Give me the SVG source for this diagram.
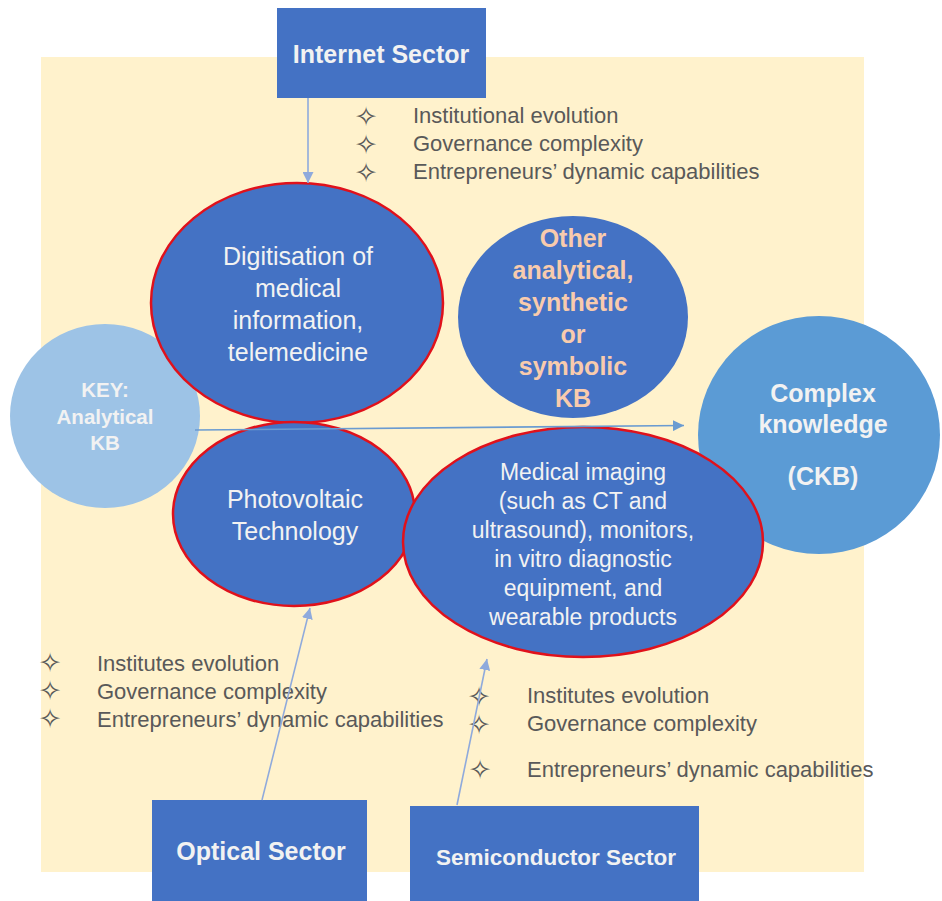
<svg xmlns="http://www.w3.org/2000/svg" width="942" height="901" viewBox="0 0 942 901">
<style>
.box{fill:#4472C4}
.ell{fill:#4472C4;stroke:#E0111B;stroke-width:2.5}
.wt{font-family:"Liberation Sans",Arial,sans-serif;fill:#F2F2F2;text-anchor:middle}
.b{font-weight:bold}
.bul{font-family:"Liberation Sans",Arial,sans-serif;font-size:22px;fill:#595959}
.dia{font-family:"DejaVu Sans",sans-serif;font-size:27px;fill:#595959;text-anchor:middle}
.con{fill:none;stroke:#8FAADC;stroke-width:1.6}
</style>
<defs>
<marker id="ah" viewBox="0 0 10 10" refX="10" refY="5" markerWidth="11" markerHeight="11" markerUnits="userSpaceOnUse" orient="auto">
<path d="M0,0 L10,5 L0,10 Z" fill="#8FAADC"/>
</marker>
<marker id="ah2" viewBox="0 0 10 10" refX="10" refY="5" markerWidth="11" markerHeight="11" markerUnits="userSpaceOnUse" orient="auto">
<path d="M0,0 L10,5 L0,10 Z" fill="#6A9BD1"/>
</marker>
</defs>
<rect x="0" y="0" width="942" height="901" fill="#FFFFFF"/>
<rect id="background" x="41" y="57" width="823" height="815" fill="#FFF2CC"/>

<g id="internet-sector">
<rect class="box" x="277" y="8" width="209" height="90"/>
<text class="wt b" x="381" y="62.5" font-size="25">Internet Sector</text>
</g>

<g id="internet-factors">
<text class="dia" x="366" y="125.5">✧</text>
<text class="dia" x="366" y="153.5">✧</text>
<text class="dia" x="366" y="181.5">✧</text>
<text class="bul" x="413" y="123">Institutional evolution</text>
<text class="bul" x="413" y="151">Governance complexity</text>
<text class="bul" x="413" y="179">Entrepreneurs’ dynamic capabilities</text>
</g>

<g id="key-analytical">
<ellipse cx="105" cy="416" rx="95" ry="92" fill="#9DC3E6"/>
<text class="wt b" x="105" y="397" font-size="20.5">KEY:</text>
<text class="wt b" x="105" y="424" font-size="20.5">Analytical</text>
<text class="wt b" x="105" y="450" font-size="20.5">KB</text>
</g>

<g id="complex-knowledge">
<ellipse cx="819" cy="435" rx="121" ry="119" fill="#5B9BD5"/>
<text class="wt b" x="823" y="402" font-size="25">Complex</text>
<text class="wt b" x="823" y="433" font-size="25">knowledge</text>
<text class="wt b" x="823" y="485" font-size="25">(CKB)</text>
</g>

<g id="other-kb">
<ellipse cx="573" cy="317" rx="115" ry="101" fill="#4472C4"/>
<g font-family="'Liberation Sans',Arial,sans-serif" font-weight="bold" font-size="25" fill="#F8CBAD" text-anchor="middle">
<text x="573" y="247">Other</text>
<text x="573" y="279">analytical,</text>
<text x="573" y="311">synthetic</text>
<text x="573" y="343">or</text>
<text x="573" y="375">symbolic</text>
<text x="573" y="407">KB</text>
</g>
</g>

<g id="digitisation">
<ellipse class="ell" cx="297" cy="303" rx="146" ry="120"/>
<text class="wt" x="298" y="265" font-size="25">Digitisation of</text>
<text class="wt" x="298" y="297" font-size="25">medical</text>
<text class="wt" x="298" y="329" font-size="25">information,</text>
<text class="wt" x="298" y="361" font-size="25">telemedicine</text>
</g>

<g id="photovoltaic">
<ellipse class="ell" cx="294" cy="514" rx="121" ry="92"/>
<text class="wt" x="295" y="508" font-size="25">Photovoltaic</text>
<text class="wt" x="295" y="540" font-size="25">Technology</text>
</g>

<g id="medical-imaging">
<ellipse class="ell" cx="583" cy="542" rx="180" ry="115"/>
<text class="wt" x="583" y="480" font-size="23">Medical imaging</text>
<text class="wt" x="583" y="509" font-size="23">(such as CT and</text>
<text class="wt" x="583" y="538" font-size="23">ultrasound), monitors,</text>
<text class="wt" x="583" y="567" font-size="23">in vitro diagnostic</text>
<text class="wt" x="583" y="596" font-size="23">equipment, and</text>
<text class="wt" x="583" y="625" font-size="23">wearable products</text>
</g>

<g id="optical-factors">
<text class="dia" x="50" y="672">✧</text>
<text class="dia" x="50" y="700">✧</text>
<text class="dia" x="50" y="728">✧</text>
<text class="bul" x="97" y="671">Institutes evolution</text>
<text class="bul" x="97" y="699">Governance complexity</text>
<text class="bul" x="97" y="727">Entrepreneurs’ dynamic capabilities</text>
</g>

<g id="semiconductor-factors">
<text class="dia" x="479" y="705.5">✧</text>
<text class="dia" x="479" y="733.5">✧</text>
<text class="dia" x="480" y="778.5">✧</text>
<text class="bul" x="527" y="703">Institutes evolution</text>
<text class="bul" x="527" y="731">Governance complexity</text>
<text class="bul" x="527" y="777">Entrepreneurs’ dynamic capabilities</text>
</g>

<g id="optical-sector">
<rect class="box" x="152" y="800" width="215" height="101"/>
<text class="wt b" x="261" y="860" font-size="25">Optical Sector</text>
</g>

<g id="semiconductor-sector">
<rect class="box" x="410" y="806" width="289" height="95"/>
<text class="wt b" x="556" y="865" font-size="22.5">Semiconductor Sector</text>
</g>

<g id="connectors">
<line class="con" x1="308" y1="98" x2="308" y2="183" marker-end="url(#ah)"/>
<line class="con" x1="195" y1="430" x2="684" y2="425.5" style="stroke:#6A9BD1" marker-end="url(#ah2)"/>
<line class="con" x1="262" y1="800" x2="310" y2="608" marker-end="url(#ah)"/>
<line class="con" x1="457" y1="805" x2="487" y2="659" marker-end="url(#ah)"/>
</g>
</svg>
